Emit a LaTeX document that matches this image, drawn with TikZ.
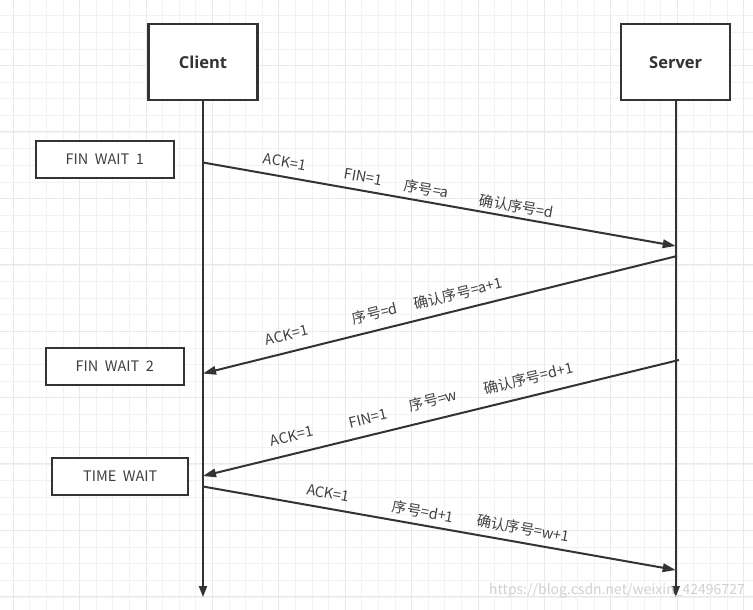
\documentclass[tikz,border=0pt]{standalone}
\usepackage{fontspec}
\setmainfont{Noto Sans CJK SC}
\newfontfamily\titlefont{Open Sans}
\usetikzlibrary{arrows.meta}
\definecolor{ink}{HTML}{333333}
\definecolor{txt}{HTML}{404040}
\definecolor{gridminor}{HTML}{F2F2F2}
\definecolor{gridmajor}{HTML}{E9E9E9}
\begin{document}
\begin{tikzpicture}[x=1pt,y=-1pt,
  bigbox/.style={draw=ink, line width=2.4pt, fill=white, minimum width=109pt, minimum height=76pt, inner sep=0pt, text=ink, font=\titlefont\bfseries\fontsize{16.5}{19}\selectfont},
  statebox/.style={draw=ink, line width=2pt, fill=white, minimum height=37pt, inner sep=0pt, text=txt, font=\fontsize{14.5}{17}\selectfont},
  life/.style={draw=ink, line width=2pt, -{Triangle[length=11pt,width=8pt]}},
  msg/.style={draw=ink, line width=2pt, -{Triangle[length=13pt,width=8.5pt]}},
  lbl/.style={text=txt, inner sep=0pt, font=\fontsize{14.5}{17}\selectfont},
  gminor/.style={draw=gridminor, line width=1pt},
  gmajor/.style={draw=gridmajor, line width=1pt}]
\useasboundingbox (0,0) rectangle (753,610);
\fill[white] (0,0) rectangle (753,610);
% grid
\foreach \i in {0,...,46} {\draw[gminor] ({-3.3+16.6*\i},0) -- ({-3.3+16.6*\i},610);}
\foreach \i in {0,...,37} {\draw[gminor] (0,{-0.6+16.6*\i}) -- (753,{-0.6+16.6*\i});}
\foreach \i in {0,...,11} {\draw[gmajor] ({13.3+66.4*\i},0) -- ({13.3+66.4*\i},610);}
\foreach \i in {0,...,9} {\draw[gmajor] (0,{-1+66.4*\i}) -- (753,{-1+66.4*\i});}

% actors
\node[bigbox] (client) at (203,62.3) {Client};
\node[bigbox] (server) at (675.7,62.3) {Server};
\coordinate (cend) at (203,597);
\coordinate (send) at (675.7,597);
\draw[life] (client.south) -- (cend);
\draw[life] (server.south) -- (send);

% states
\node[statebox, minimum width=138pt] (fw1) at (104.8,159.3) {FIN\hspace{0.45em}WAIT\hspace{0.45em}1};
\node[statebox, minimum width=138pt] (fw2) at (114.7,366.3) {FIN\hspace{0.45em}WAIT\hspace{0.45em}2};
\node[statebox, minimum width=136.5pt] (tw) at (120.2,476.5) {TIME\hspace{0.45em}WAIT};

% message endpoints
\coordinate (m1a) at (203,162.5);
\coordinate (m1b) at (675.7,246);
\coordinate (m2a) at (677,256);
\coordinate (m2b) at (203,373.5);
\coordinate (m3a) at (679,360);
\coordinate (m3b) at (203,476);
\coordinate (m4a) at (203,486.5);
\coordinate (m4b) at (675.7,570);

\draw[msg] (m1a) -- (m1b);
\draw[msg] (m2a) -- (m2b);
\draw[msg] (m3a) -- (m3b);
\draw[msg] (m4a) -- (m4b);

% labels message 1
\node[lbl, rotate=-10] (l1a) at (285,162) {ACK=1};
\node[lbl, rotate=-10] (l1b) at (363.3,177) {FIN=1};
\node[lbl, rotate=-10] (l1c) at (426.7,189) {序号=a};
\node[lbl, rotate=-10] (l1d) at (516.7,206.5) {确认序号=d};
% labels message 2
\node[lbl, rotate=13.9] (l2a) at (286.7,335) {ACK=1};
\node[lbl, rotate=13.9] (l2b) at (375,313.3) {序号=d};
\node[lbl, rotate=13.9] (l2c) at (458.3,293.3) {确认序号=a+1};
% labels message 3
\node[lbl, rotate=13.7] (l3a) at (291.7,436) {ACK=1};
\node[lbl, rotate=13.7] (l3b) at (368.3,418.3) {FIN=1};
\node[lbl, rotate=13.7] (l3c) at (433.3,400) {序号=w};
\node[lbl, rotate=13.7] (l3d) at (528.3,378.3) {确认序号=d+1};
% labels message 4
\node[lbl, rotate=-10.1] (l4a) at (328.3,493.3) {ACK=1};
\node[lbl, rotate=-10.1] (l4b) at (423.3,511.7) {序号=d+1};
\node[lbl, rotate=-10.1] (l4c) at (523.3,528.3) {确认序号=w+1};

% watermark
\node[anchor=east, inner sep=0pt, text=black!18, font=\fontsize{14}{16}\selectfont] (wm) at (745,591) {https://blog.csdn.net/weixin\_42496727};
\end{tikzpicture}
\end{document}
